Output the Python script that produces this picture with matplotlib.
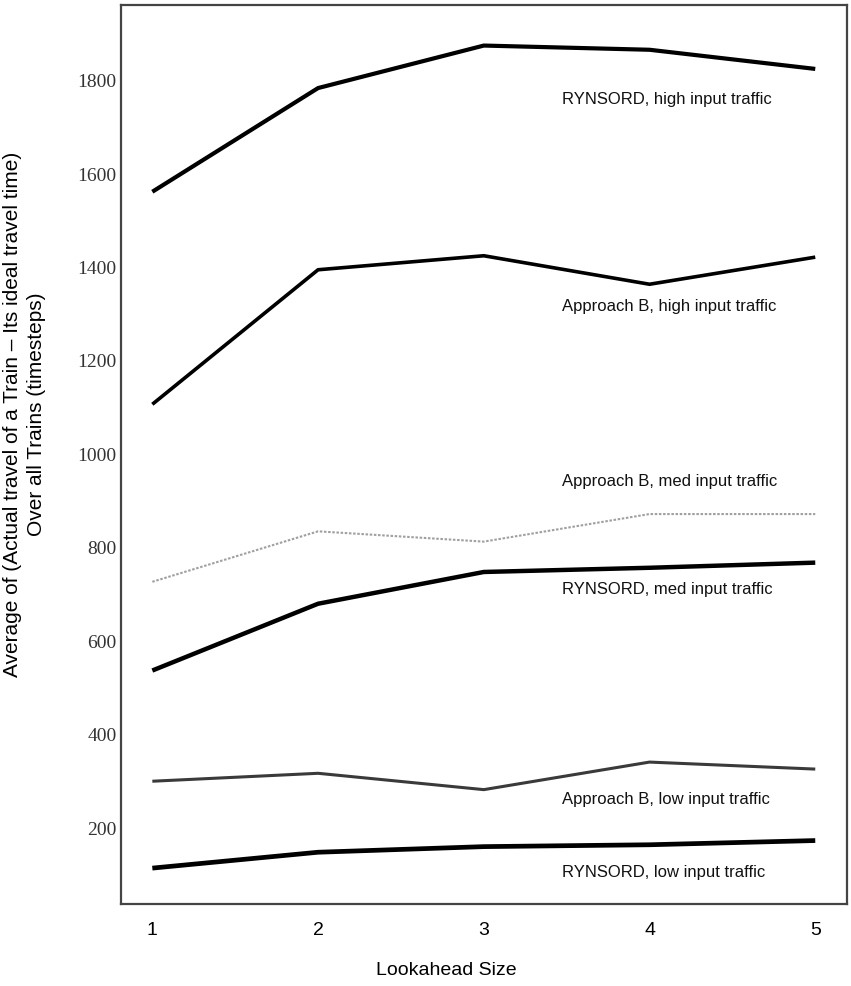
import matplotlib.pyplot as plt

# lookahead sizes on the x axis
lookahead = [1, 2, 3, 4, 5]

# average (actual - ideal) travel time per train, in timesteps
rynsord_high = [1560, 1782, 1873, 1864, 1823]
approach_b_high = [1105, 1393, 1423, 1362, 1420]
approach_b_med = [725, 833, 811, 870, 870]
rynsord_med = [535, 678, 746, 755, 766]
approach_b_low = [298, 315, 280, 339, 324]
rynsord_low = [112, 146, 158, 162, 171]

labels = [
    ("RYNSORD, high input traffic", 1760),
    ("Approach B, high input traffic", 1316),
    ("Approach B, med input traffic", 941),
    ("RYNSORD, med input traffic", 710),
    ("Approach B, low input traffic", 260),
    ("RYNSORD, low input traffic", 104),
]

sans = ['Liberation Sans', 'DejaVu Sans']
serif = ['Liberation Serif', 'DejaVu Serif']

fig = plt.figure(figsize=(8.51, 9.87), dpi=100)
ax = fig.add_axes([0.142, 0.083, 0.853, 0.911])

ax.plot(lookahead, rynsord_high, color='black', lw=3.0, solid_capstyle='butt')
ax.plot(lookahead, approach_b_high, color='black', lw=2.6, solid_capstyle='butt')
ax.plot(lookahead, approach_b_med, color='#a0a0a0', lw=1.5, ls=(0, (1.2, 0.8)))
ax.plot(lookahead, rynsord_med, color='black', lw=3.2, solid_capstyle='butt')
ax.plot(lookahead, approach_b_low, color='#3a3a3a', lw=2.2, solid_capstyle='butt')
ax.plot(lookahead, rynsord_low, color='black', lw=3.4, solid_capstyle='butt')

for text, yv in labels:
    ax.text(3.47, yv, text, fontsize=12, family=sans, color='#111111', va='center', ha='left')

ax.set_xlim(0.81, 5.19)
ax.set_ylim(35, 1960)
ax.set_xticks(lookahead)
ax.set_yticks([200, 400, 600, 800, 1000, 1200, 1400, 1600, 1800])
ax.tick_params(axis='both', length=0)
ax.tick_params(axis='x', pad=12)
ax.tick_params(axis='y', pad=3)
for lab in ax.get_xticklabels():
    lab.set_family(sans)
    lab.set_fontsize(14)
for lab in ax.get_yticklabels():
    lab.set_family(serif)
    lab.set_fontsize(14)
    lab.set_color('#333333')

for sp in ax.spines.values():
    sp.set_linewidth(1.6)
    sp.set_color('#444444')

fig.text(0.029, 0.58, "Average of (Actual travel of a Train \u2013 Its ideal travel time)\nOver all Trains (timesteps)",
         rotation=90, ha='center', va='center', fontsize=15, family=sans, linespacing=1.3)
fig.text(0.525, 0.017, "Lookahead Size", ha='center', va='center', fontsize=14, family=sans)

fig.savefig('out.png', dpi=100)
